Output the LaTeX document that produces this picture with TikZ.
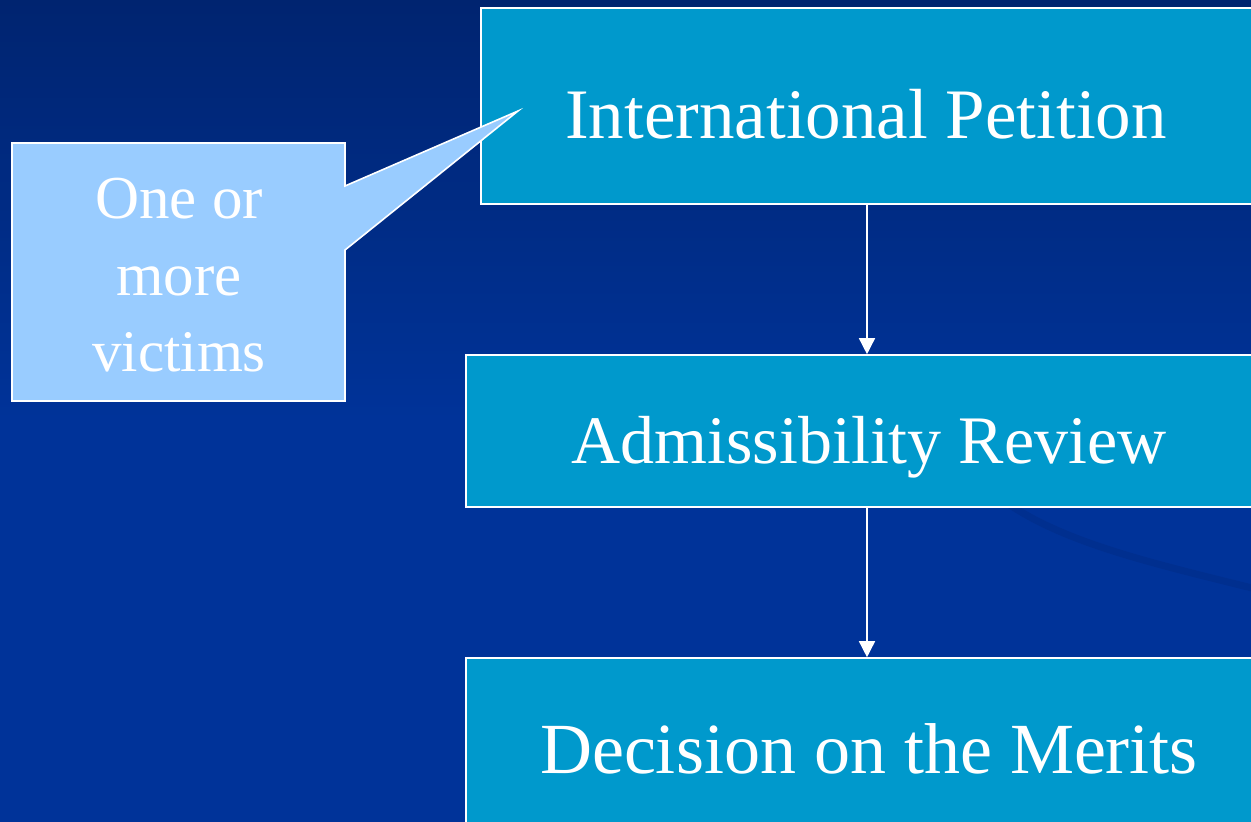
\documentclass[tikz,border=0pt]{standalone}
\usepackage{fontspec}
\setmainfont{Liberation Serif}
\usetikzlibrary{arrows.meta}
\definecolor{bgtop}{RGB}{0,36,112}
\definecolor{bgmid}{RGB}{0,51,153}
\definecolor{bgswoosh}{RGB}{0,47,143}
\definecolor{boxfill}{RGB}{0,153,204}
\definecolor{callfill}{RGB}{153,204,255}
\tikzset{
  stagebox/.style={draw=white, line width=1.6pt, fill=boxfill, rectangle, inner sep=0pt},
  stagetext/.style={text=white, anchor=base, inner sep=0pt},
  flowarrow/.style={draw=white, line width=1.5pt, -{Triangle[width=16pt,length=16pt]}},
}
\begin{document}
\begin{tikzpicture}[x=1pt,y=-1pt]
\useasboundingbox (0,0) rectangle (1251,822);
\clip (0,0) rectangle (1251,822);
% background
\shade[top color=bgtop, bottom color=bgmid] (0,0) rectangle (1251,420);
\fill[bgmid] (0,419) rectangle (1251,822);
\draw[bgswoosh, line width=7pt] (1010,505) .. controls (1070,545) and (1160,565) .. (1260,590);
% stage boxes
\node[stagebox, minimum width=772pt, minimum height=196pt] (b1) at (867,106) {};
\node[stagebox, minimum width=802pt, minimum height=152pt] (b2) at (867,431) {};
\node[stagebox, minimum width=802pt, minimum height=220pt] (b3) at (867,768) {};
\node[stagetext, font=\fontsize{71}{80}\selectfont] (t1) at (866,138) {International Petition};
\node[stagetext, font=\fontsize{68}{78}\selectfont] (t2) at (869,463) {Admissibility Review};
\node[stagetext, font=\fontsize{72}{82}\selectfont] (t3) at (869,773) {Decision on the Merits};
% arrows
\draw[flowarrow] (b1.south) -- (b2.north);
\draw[flowarrow] (b2.south) -- (b3.north);
% callout
\coordinate (tip) at (518,111);
\draw[white, line width=1.6pt, fill=callfill] (12,143) -- (345,143) -- (345,186) -- (tip) -- (345,250) -- (345,401) -- (12,401) -- cycle;
\node[stagetext, font=\fontsize{61}{76}\selectfont] (c1) at (179,218) {One or};
\node[stagetext, font=\fontsize{61}{76}\selectfont] (c2) at (179,295) {more};
\node[stagetext, font=\fontsize{59}{76}\selectfont] (c3) at (179,371) {victims};
\end{tikzpicture}
\end{document}
